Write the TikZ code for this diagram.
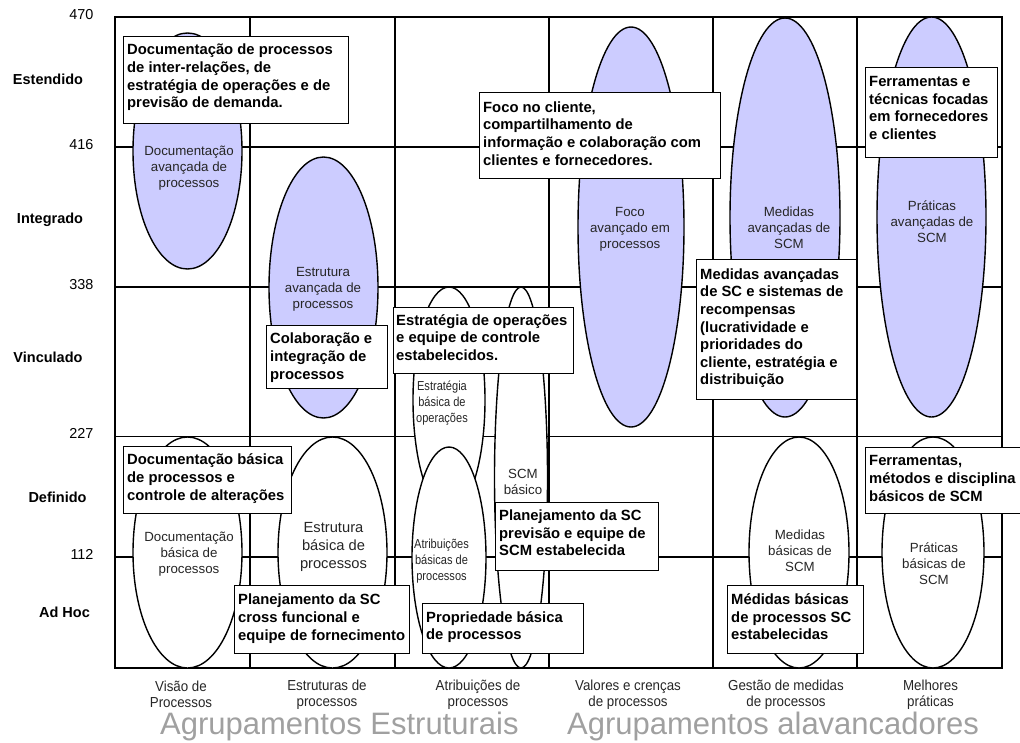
\documentclass[tikz,border=0pt]{standalone}
\usepackage{fontspec}
\setmainfont{Liberation Sans}
\newfontfamily\narrowfont[FakeStretch=0.85]{Liberation Sans}
\newfontfamily\condfont[FakeStretch=0.92]{Liberation Sans}
\definecolor{lav}{RGB}{204,204,255}
\definecolor{groupgray}{RGB}{160,160,160}
\begin{document}
\begin{tikzpicture}[x=1pt,y=-1pt,
  gridline/.style={line width=1.7pt},
  advell/.style={draw, line width=1.4pt, fill=lav},
  basell/.style={draw, line width=1.4pt, fill=white},
  elltext/.style={align=center, font=\fontsize{13.3}{16}\selectfont, text=black!85, inner sep=0pt},
  slimtext/.style={align=center, font=\narrowfont\fontsize{13}{16}\selectfont, text=black!85, inner sep=0pt},
  bigtext/.style={align=center, font=\fontsize{14.7}{18}\selectfont, text=black!85, inner sep=0pt},
  notebox/.style={draw, line width=1.3pt, fill=white, anchor=north west, inner sep=0pt},
  notetext/.style={anchor=north west, inner xsep=4pt, inner ysep=0pt, align=left,
    font=\bfseries\fontsize{14.8}{17.6}\selectfont},
  level/.style={font=\bfseries\fontsize{14.5}{16}\selectfont, anchor=mid},
  tick/.style={font=\fontsize{14.4}{16}\selectfont, anchor=mid east},
  axislabel/.style={align=center, font=\condfont\fontsize{14.5}{16}\selectfont, text=black!85},
  group/.style={font=\fontsize{31}{31}\selectfont, text=groupgray, anchor=base west, inner sep=0pt}
]
\useasboundingbox (0,0) rectangle (1020,742);

% maturity grid
\draw[gridline] (115,17) rectangle (1002,668);
\foreach \yy in {147,287,436.5,557} \draw[gridline] (115,\yy) -- (1002,\yy);
\foreach \xx in {250,395,549,713,857} \draw[gridline] (\xx,17) -- (\xx,668);

% advanced practices (upper levels)
\path[advell] (187.5,151) ellipse [x radius=54.5pt, y radius=118pt];
\path[advell] (323.5,287.5) ellipse [x radius=54.5pt, y radius=130.5pt];
\path[advell] (631,227) ellipse [x radius=53pt, y radius=200pt];
\path[advell] (785,217.5) ellipse [x radius=55pt, y radius=199.5pt];
\path[advell] (931.5,217) ellipse [x radius=54.5pt, y radius=200pt];

% basic practices (lower levels)
\path[basell] (187.5,552.5) ellipse [x radius=54.5pt, y radius=115.5pt];
\path[basell] (332.5,552.5) ellipse [x radius=54.5pt, y radius=115.5pt];
\path[basell] (449,400) ellipse [x radius=36pt, y radius=113pt];
\path[basell] (449,557.5) ellipse [x radius=37pt, y radius=110.5pt];
\path[basell] (521,477.5) ellipse [x radius=26.5pt, y radius=190.5pt];
\path[basell] (799,552.5) ellipse [x radius=50pt, y radius=115.5pt];
\path[basell] (933,552.5) ellipse [x radius=51pt, y radius=115.5pt];

% practice names
\node[elltext] (docav) at (189,168) {Documentação\\avançada de\\processos};
\node[elltext] (estav) at (323,289) {Estrutura\\avançada de\\processos};
\node[elltext] (focoav) at (630,229) {Foco\\avançado em\\processos};
\node[elltext] (medav) at (789,228) {Medidas\\avançadas de\\SCM};
\node[elltext] (pratav) at (932,222) {Práticas\\avançadas de\\SCM};
\node[elltext] (docbas) at (189,554) {Documentação\\básica de\\processos};
\node[bigtext] (estbas) at (333.5,547) {Estrutura\\básica de\\processos};
\node[slimtext] (estrbas) at (442,403) {Estratégia\\básica de\\operações};
\node[slimtext] (atrbas) at (441.5,561) {Atribuições\\básicas de\\processos};
\node[elltext] (scmbas) at (523,481.5) {SCM\\básico};
\node[elltext] (medbas) at (800,551) {Medidas\\básicas de\\SCM};
\node[elltext] (pratbas) at (934,564) {Práticas\\básicas de\\SCM};

% callout boxes
\node[notebox, minimum width=225pt, minimum height=87pt] (nA) at (123,36) {};
\node[notetext] (tA) at (nA.north west) {\rule{0pt}{18.6pt}Documentação de processos\\de inter-relações, de\\estratégia de operações e de\\previsão de demanda.};

\node[notebox, minimum width=241pt, minimum height=86pt] (nB) at (479,92) {};
\node[notetext] (tB) at (nB.north west) {\rule{0pt}{20pt}Foco no cliente,\\compartilhamento de\\informação e colaboração com\\clientes e fornecedores.};

\node[notebox, minimum width=132pt, minimum height=90pt] (nC) at (865,67) {};
\node[notetext] (tC) at (nC.north west) {\rule{0pt}{19.3pt}Ferramentas e\\técnicas focadas\\em fornecedores\\e clientes};

\node[notebox, minimum width=159.5pt, minimum height=140pt] (nD) at (696,259) {};
\node[notetext] (tD) at (nD.north west) {\rule{0pt}{20pt}Medidas avançadas\\de SC e sistemas de\\recompensas\\(lucratividade e\\prioridades do\\cliente, estratégia e\\distribuição};

\node[notebox, minimum width=121pt, minimum height=63pt] (nE) at (266,325) {};
\node[notetext] (tE) at (nE.north west) {\rule{0pt}{18.6pt}Colaboração e\\integração de\\processos};

\node[notebox, minimum width=180pt, minimum height=66pt] (nF) at (393,307) {};
\node[notetext, inner xsep=3pt] (tF) at (nF.north west) {\rule{0pt}{18pt}Estratégia de operações\\e equipe de controle\\estabelecidos.};

\node[notebox, minimum width=168pt, minimum height=67pt] (nG) at (123,446) {};
\node[notetext] (tG) at (nG.north west) {\rule{0pt}{18.6pt}Documentação básica\\de processos e\\controle de alterações};

\node[notebox, minimum width=175pt, minimum height=68pt] (nH) at (234,585) {};
\node[notetext] (tH) at (nH.north west) {\rule{0pt}{19.6pt}Planejamento da SC\\cross funcional e\\equipe de fornecimento};

\node[notebox, minimum width=161pt, minimum height=50pt] (nI) at (422,603) {};
\node[notetext] (tI) at (nI.north west) {\rule{0pt}{19pt}Propriedade básica\\de processos};

\node[notebox, minimum width=163pt, minimum height=68pt] (nJ) at (495,502) {};
\node[notetext] (tJ) at (nJ.north west) {\rule{0pt}{18.3pt}Planejamento da SC\\previsão e equipe de\\SCM estabelecida};

\node[notebox, minimum width=135.5pt, minimum height=68pt] (nK) at (727,585) {};
\node[notetext] (tK) at (nK.north west) {\rule{0pt}{19.3pt}Médidas básicas\\de processos SC\\estabelecidas};

\node[notebox, minimum width=160pt, minimum height=66pt] (nL) at (865,447) {};
\node[notetext] (tL) at (nL.north west) {\rule{0pt}{18.6pt}Ferramentas,\\métodos e disciplina\\básicos de SCM};

% maturity levels
\node[tick] (v470) at (97,17) {470};
\node[tick] (v416) at (97,147) {416};
\node[tick] (v338) at (97,287) {338};
\node[tick] (v227) at (97,435.5) {227};
\node[tick] (v112) at (97,556.5) {112};
\node[level] (lExt) at (48,82) {Estendido};
\node[level] (lInt) at (50,220.5) {Integrado};
\node[level] (lVin) at (48,360) {Vinculado};
\node[level] (lDef) at (57.5,500) {Definido};
\node[level] (lAdh) at (64.5,615) {Ad Hoc};

% process dimensions
\node[axislabel] (cVis) at (181,694.5) {Visão de\\Processos};
\node[axislabel] (cEst) at (327,694.5) {Estruturas de\\processos};
\node[axislabel] (cAtr) at (478,694.5) {Atribuições de\\processos};
\node[axislabel] (cVal) at (628,694.5) {Valores e crenças\\de processos};
\node[axislabel] (cGes) at (786,694.5) {Gestão de medidas\\de processos};
\node[axislabel] (cMel) at (930.5,694.5) {Melhores\\práticas};

% groupings
\node[group] (gEst) at (160,734) {Agrupamentos Estruturais};
\node[group] (gAla) at (567,734) {Agrupamentos alavancadores};
\end{tikzpicture}
\end{document}
